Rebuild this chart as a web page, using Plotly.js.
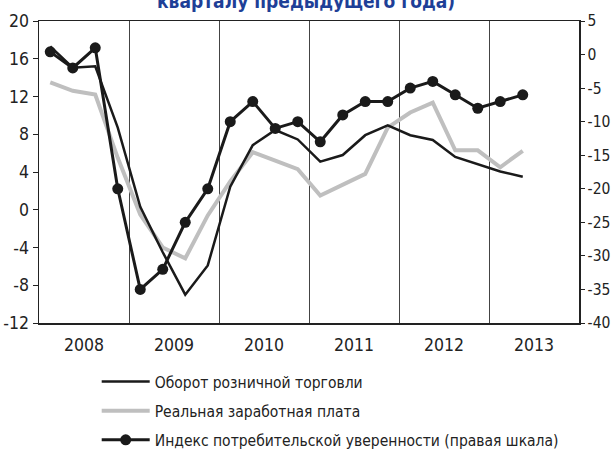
<!DOCTYPE html>
<html>
<head>
<meta charset="utf-8">
<script src="https://cdn.plot.ly/plotly-3.0.1.min.js"></script>
<style>
html,body{margin:0;padding:0;background:#fff;}
#chart{width:612px;height:452px;}
</style>
</head>
<body>
<div id="chart"></div>
<script>
// Quarters 2008Q1 .. 2013Q2
var years    = [2008,2008,2008,2008, 2009,2009,2009,2009, 2010,2010,2010,2010, 2011,2011,2011,2011, 2012,2012,2012,2012, 2013,2013];
var quarters = [1,2,3,4, 1,2,3,4, 1,2,3,4, 1,2,3,4, 1,2,3,4, 1,2];

// Оборот розничной торговли (left axis)
var retail = [17.3, 15.05, 15.2, 8.7,  0.3, -4.5, -9.0, -5.9,  2.45, 6.85, 8.45, 7.45,  5.1, 5.8, 7.9, 8.95,  7.9, 7.4, 5.6, 4.85,  4.05, 3.5];
// Реальная заработная плата (left axis)
var wages = [13.5, 12.6, 12.2, 5.5,  -0.5, -4.0, -5.15, -0.6,  3.0, 6.1, 5.2, 4.3,  1.5, 2.7, 3.8, 8.7,  10.3, 11.35, 6.3, 6.3,  4.5, 6.25];
// Индекс потребительской уверенности (right axis)
var confidence = [0.4, -2.0, 1.0, -20,  -35, -32, -25, -20,  -10, -7, -11, -10,  -13, -9, -7, -7,  -5, -4, -6, -8,  -7, -6];

var yearLabels = ['2008','2009','2010','2011','2012','2013'];
var leftTicks  = [-12,-8,-4,0,4,8,12,16,20];
var leftText   = ['-12','-8','-4','0','4','8','12','16','20'];
var rightTicks = [-40,-35,-30,-25,-20,-15,-10,-5,0,5];
var rightText  = ['-40','-35','-30','-25','-20','-15','-10','-5','0','5'];

var names = ['Оборот розничной торговли','Реальная заработная плата','Индекс потребительской уверенности (правая шкала)'];
var titleText = 'кварталу предыдущего года)';

// quarter mid-points on a numeric year scale
var xq = years.map(function(y,i){ return y + (quarters[i]-0.5)/4; });
var yearCenters = yearLabels.map(function(s){ return +s + 0.5; });

var font = "'DejaVu Sans Condensed', 'Liberation Sans Narrow', sans-serif";

var traces = [
  {x:xq, y:wages, type:'scatter', mode:'lines', name:names[1], legendgroup:'g2',
   line:{color:'#bfbfbf', width:4}, legendrank:2},
  {x:xq, y:retail, type:'scatter', mode:'lines', name:names[0], legendgroup:'g1',
   line:{color:'#1a1a1a', width:2.5}, legendrank:1},
  {x:xq, y:confidence, type:'scatter', mode:'lines+markers', name:names[2], yaxis:'y2', legendgroup:'g3',
   line:{color:'#1a1a1a', width:3}, marker:{color:'#1a1a1a', size:11}, legendrank:3}
];

var layout = {
  width:612, height:452,
  margin:{l:39, r:33, t:21, b:129, autoexpand:false},
  paper_bgcolor:'#fff', plot_bgcolor:'#fff',
  font:{family:font, size:17.5, color:'#222'},
  showlegend:true,
  legend:{xref:'container', yref:'container', x:0.158, y:0.1925, xanchor:'left', yanchor:'top',
          bgcolor:'rgba(0,0,0,0)',
          font:{family:font, size:15.5, color:'#222'}, itemwidth:48, tracegroupgap:6,
          traceorder:'grouped'},
  xaxis:{range:[2008,2014], tickvals:yearCenters, ticktext:yearLabels, tickangle:0,
         ticks:'outside', ticklen:5, tickcolor:'rgba(0,0,0,0)',
         showgrid:false, zeroline:false, showline:true, linecolor:'#222', linewidth:1.5, mirror:true,
         minor:{tick0:2008, dtick:1, showgrid:true, gridcolor:'#444', gridwidth:1, ticks:''},
         automargin:false, fixedrange:true},
  yaxis:{range:[-12,20], tickvals:leftTicks, ticktext:leftText, ticks:'outside', ticklen:5,
         tickcolor:'#222', showgrid:false, zeroline:false, showline:true, linecolor:'#222',
         linewidth:1.5, mirror:true, automargin:false},
  yaxis2:{range:[-40,5], tickvals:rightTicks, ticktext:rightText, overlaying:'y', side:'right',
          ticks:'outside', ticklen:4, tickcolor:'#222', showgrid:false, zeroline:false,
          tickfont:{family:font, size:15.5, color:'#222'},
          showline:true, linecolor:'#222', linewidth:1.5, automargin:false},
  annotations:[{text:'<b>'+titleText+'</b>', xref:'paper', yref:'paper', x:0.495, y:1.065,
                xanchor:'center', yanchor:'middle', showarrow:false,
                font:{family:font, size:19, color:'#1e3f97'}}]
};

Plotly.newPlot('chart', traces, layout, {staticPlot:true, displayModeBar:false});
</script>
</body>
</html>
